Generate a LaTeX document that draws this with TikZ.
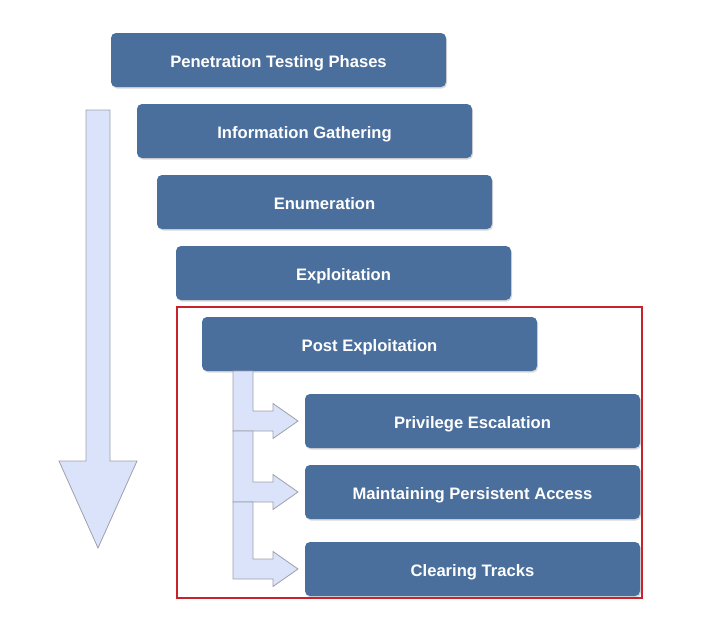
\documentclass[tikz,border=0pt]{standalone}
\usepackage{fontspec}
\setmainfont{Liberation Sans}
\usetikzlibrary{positioning,calc,shadows}
\definecolor{phaseblue}{HTML}{4A6F9C}
\definecolor{arrowfill}{HTML}{DAE3FA}
\definecolor{arrowline}{HTML}{9EA0AC}
\definecolor{framered}{HTML}{C8232B}
\tikzset{
  phase/.style   ={fill=phaseblue, rounded corners=5pt, minimum height=54pt, minimum width=335pt, align=center, outer sep=0pt,
                   text=white, font=\bfseries\fontsize{16.6}{20}\selectfont, text height=15pt, text depth=0pt,
                   drop shadow={shadow xshift=1pt, shadow yshift=-1.5pt, opacity=0.3}},
  bigarr/.style  ={draw=arrowline, fill=arrowfill, line width=0.8pt},
  elbow/.style   ={draw=arrowline, fill=arrowfill, line width=0.8pt},
  redframe/.style={draw=framered, line width=2pt},
}

\begin{document}
\begin{tikzpicture}[x=1pt, y=1pt]
  \useasboundingbox (0,0) rectangle (718,-632);
  % phases, stepping down and to the right
  \node[phase, anchor=north west] (phases) at (111,-33) {Penetration Testing Phases};
  \node[phase, below right=17pt and 26pt of phases.south west] (info) {Information Gathering};
  \node[phase, below right=17pt and 20pt of info.south west] (enum) {Enumeration};
  \node[phase, below right=17pt and 19pt of enum.south west] (exploit) {Exploitation};
  \node[phase, below right=17pt and 26pt of exploit.south west] (post) {Post Exploitation};
  \node[phase, below right=23pt and 103pt of post.south west] (priv) {Privilege Escalation};
  \node[phase, below=17pt of priv] (maint) {Maintaining Persistent Access};
  \node[phase, below=23pt of maint] (clear) {Clearing Tracks};

  % big down arrow
  \draw[bigarr] (86,-110) -- (110,-110) -- (110,-461) -- (137,-461) -- (98,-548)
    -- (59,-461) -- (86,-461) -- cycle;

  % elbow arrows from post exploitation
  \coordinate (stemL) at ($(post.south west)+(31,0)$);
  \coordinate (stemR) at ($(post.south west)+(51,0)$);
  \coordinate (headL) at ($(post.south west)+(71,0)$);
  \coordinate (headT) at ($(post.south west)+(96,0)$);
  \coordinate (from1) at (post.south);
  \coordinate (from2) at ([yshift=-10pt]priv.west);
  \coordinate (from3) at ([yshift=-10pt]maint.west);
  \foreach \kid/\from in {priv/from1, maint/from2, clear/from3}
    \draw[elbow] (stemL |- \from) -- (stemR |- \from) -- ([yshift=10pt]stemR |- \kid.west)
      -- ([yshift=10pt]headL |- \kid.west) -- ([yshift=17.5pt]headL |- \kid.west)
      -- (headT |- \kid.west) -- ([yshift=-17.5pt]headL |- \kid.west)
      -- ([yshift=-10pt]headL |- \kid.west) -- ([yshift=-10pt]stemL |- \kid.west) -- cycle;

  % frame round the post exploitation part
  \draw[redframe] ($(post.north west)+(-25,10)$) rectangle ($(clear.south east)+(2,-2)$);
\end{tikzpicture}
\end{document}
